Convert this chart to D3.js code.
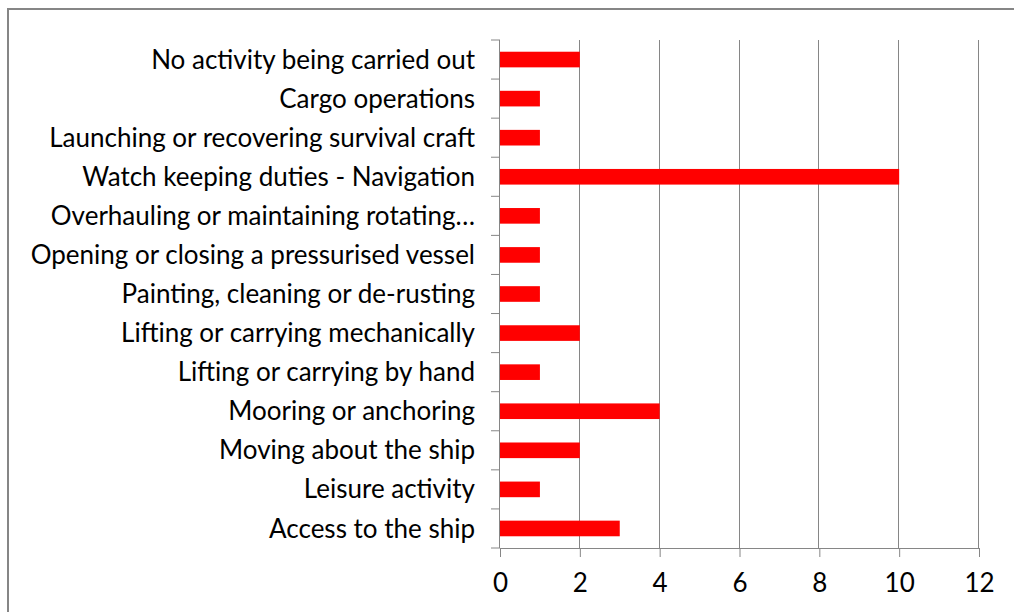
<!DOCTYPE html>
<html>
<head>
<meta charset="utf-8">
<script src="https://cdn.jsdelivr.net/npm/d3@7"></script>
<style>
  html, body { margin: 0; padding: 0; background: #fff; }
  svg { display: block; }
  text { font-family: Lato, "Open Sans", sans-serif; fill: #000; }
</style>
</head>
<body>
<svg id="chart"></svg>
<script>
// Activity categories, listed top to bottom as in the chart
const categories = [
    "No activity being carried out",
    "Cargo operations",
    "Launching or recovering survival craft",
    "Watch keeping duties - Navigation",
    "Overhauling or maintaining rotating…",
    "Opening or closing a pressurised vessel",
    "Painting, cleaning or de-rusting",
    "Lifting or carrying mechanically",
    "Lifting or carrying by hand",
    "Mooring or anchoring",
    "Moving about the ship",
    "Leisure activity",
    "Access to the ship"
];
const counts = [2, 1, 1, 10, 1, 1, 1, 2, 1, 4, 2, 1, 3];
const xTicks = [0, 2, 4, 6, 8, 10, 12];

const W = 1014, H = 612;
const margin = {top: 40, right: 35, bottom: 64, left: 500};
const width = 979 - margin.left;
const height = 548 - margin.top;
const fontSize = '26px';

const svg = d3.select('#chart').attr('width', W).attr('height', H);

// outer chart frame (runs off the right and bottom edges)
svg.append('rect')
    .attr('x', 8).attr('y', 9)
    .attr('width', W + 20).attr('height', H + 20)
    .attr('fill', 'none')
    .attr('stroke', '#868686')
    .attr('stroke-width', 2);

const g = svg.append('g').attr('transform', `translate(${margin.left},${margin.top})`);

const x = d3.scaleLinear().domain([0, 12]).range([0, width]);
const y = d3.scaleBand().domain(categories).range([0, height])
    .paddingInner(0.6).paddingOuter(0.3);

// vertical gridlines
g.append('g')
    .selectAll('line')
    .data(xTicks.filter(d => d > 0))
    .enter().append('line')
    .attr('x1', d => Math.round(x(d)) - 0.5).attr('x2', d => Math.round(x(d)) - 0.5)
    .attr('y1', 0).attr('y2', height)
    .attr('stroke', '#868686')
    .attr('stroke-width', 1);

// bars
g.selectAll('rect.bar')
    .data(categories.map((c, i) => ({cat: c, value: counts[i]})))
    .enter().append('rect')
    .attr('class', 'bar')
    .attr('x', x(0))
    .attr('y', d => y(d.cat))
    .attr('width', d => x(d.value) - x(0))
    .attr('height', y.bandwidth())
    .attr('fill', '#ff0000');

// x axis
const xAxis = g.append('g')
    .attr('transform', `translate(0,${height})`)
    .call(d3.axisBottom(x).tickValues(xTicks).tickSize(9).tickPadding(17).tickSizeOuter(0));
xAxis.select('.domain').attr('stroke', '#868686');
xAxis.selectAll('line').attr('stroke', '#868686');
xAxis.selectAll('text')
    .attr('fill', '#000')
    .style('font-size', fontSize)
    .style('font-family', 'Lato, sans-serif');

// y axis: ticks between categories, labels centered in each band
const step = y.step();
const yAxis = g.append('g');
yAxis.append('line')
    .attr('x1', -0.5).attr('x2', -0.5)
    .attr('y1', 0).attr('y2', height)
    .attr('stroke', '#868686');
yAxis.selectAll('line.tick')
    .data(d3.range(categories.length + 1))
    .enter().append('line')
    .attr('class', 'tick')
    .attr('x1', -9).attr('x2', 0)
    .attr('y1', i => i * step).attr('y2', i => i * step)
    .attr('stroke', '#868686');
yAxis.selectAll('text')
    .data(categories)
    .enter().append('text')
    .attr('x', -25)
    .attr('y', d => y(d) + y.bandwidth() / 2)
    .attr('dy', '0.35em')
    .attr('text-anchor', 'end')
    .style('font-size', fontSize)
    .text(d => d);
</script>
</body>
</html>
